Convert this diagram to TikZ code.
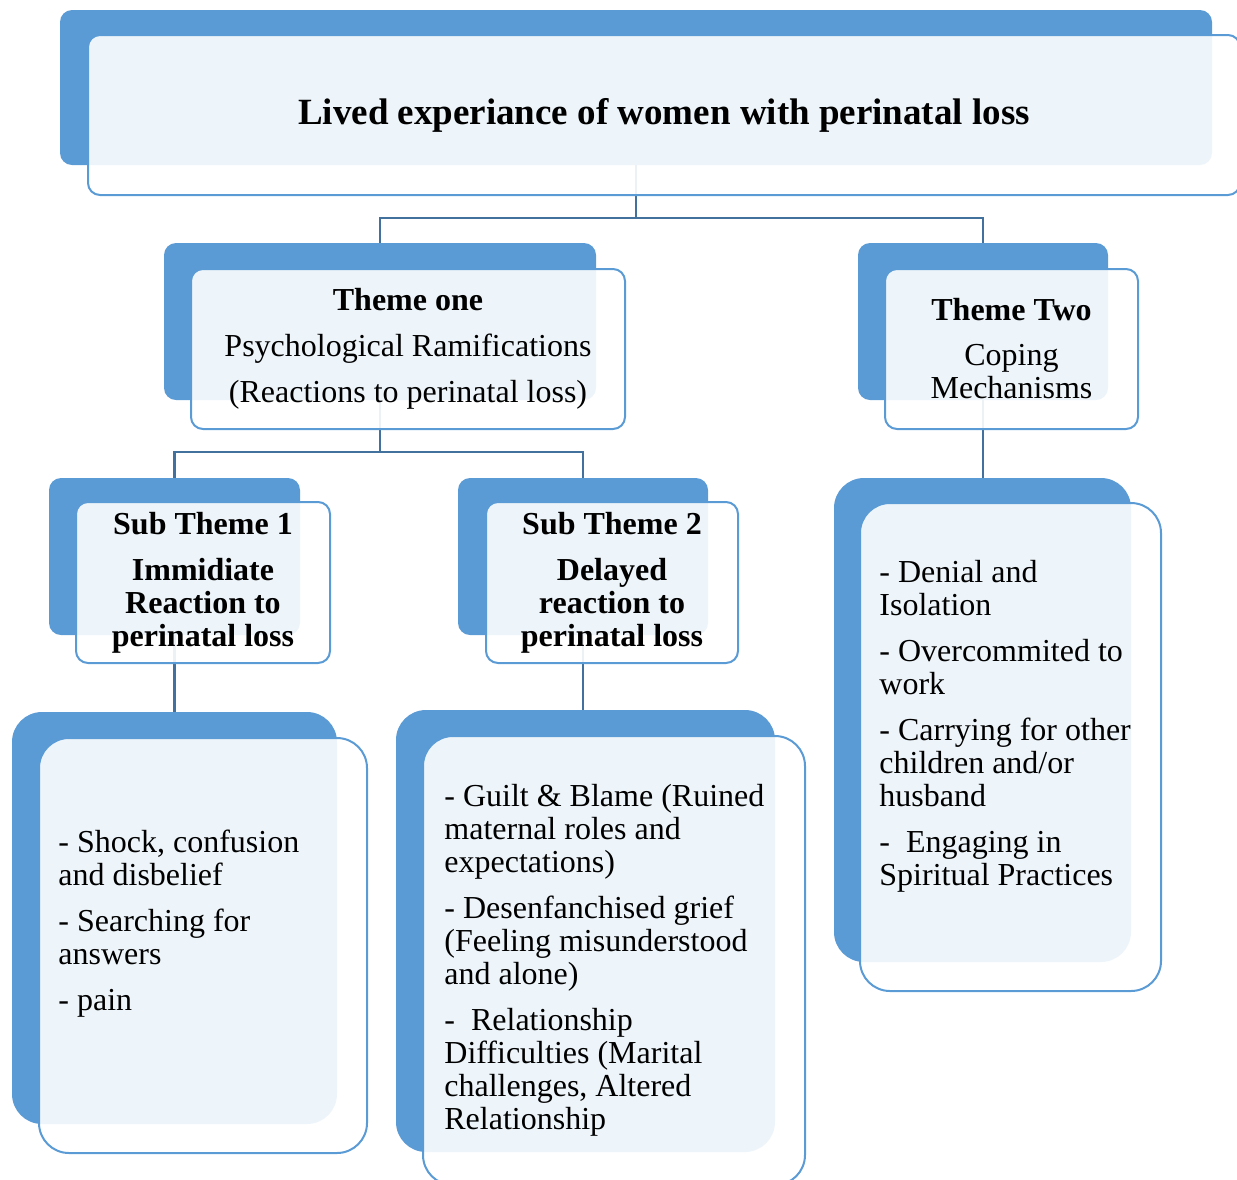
\documentclass[tikz,border=0pt]{standalone}
\usepackage{fontspec}
\setmainfont{Liberation Serif}
\usetikzlibrary{backgrounds}
\definecolor{themeblue}{HTML}{5B9BD5}
\definecolor{linkblue}{HTML}{41719C}
\newcommand{\boxfont}{\fontsize{16pt}{16.5pt}\selectfont}
\tikzset{
  backbox/.style={fill=themeblue, rounded corners=6pt, inner sep=0pt},
  frontbox/.style={draw=themeblue, line width=1pt, fill=white, fill opacity=0.9, text opacity=1,
    rounded corners=6pt, inner sep=0pt, align=center, font=\boxfont},
  bigcorner/.style={rounded corners=15pt},
  itemtext/.style={align=left, anchor=north west, inner sep=0pt, font=\boxfont},
  conn/.style={draw=linkblue, line width=1.2pt}
}
\begin{document}
\begin{tikzpicture}[x=0.5pt,y=-0.5pt]
\useasboundingbox (0,0) rectangle (1237,1179);

% main box
\node[backbox, minimum width=576pt, minimum height=77.5pt] (btop) at (636,87.5) {};
\node[frontbox, minimum width=576pt, minimum height=80pt,
  font=\fontsize{18.5pt}{20pt}\selectfont\bfseries] (ftop) at (664,115)
  {Lived experiance of women with perinatal loss};

% themes
\node[backbox, minimum width=216pt, minimum height=78.5pt] (bone) at (380,321.5) {};
\node[frontbox, minimum width=217pt, minimum height=80pt] (fone) at (408,349)
  {\textbf{Theme one}\\[6.5pt] Psychological Ramifications\\[6.5pt] (Reactions to perinatal loss)};

\node[backbox, minimum width=125pt, minimum height=78.5pt] (btwo) at (983,321.5) {};
\node[frontbox, minimum width=126.5pt, minimum height=80pt] (ftwo) at (1011.5,349)
  {\textbf{Theme Two}\\[6pt] Coping\\ Mechanisms};

% sub themes
\node[backbox, minimum width=125.5pt, minimum height=78.5pt] (bsubone) at (174.5,556.5) {};
\node[frontbox, minimum width=127pt, minimum height=80.5pt] (fsubone) at (203,582.5)
  {\textbf{Sub Theme 1}\\[6.5pt] \textbf{Immidiate}\\ \textbf{Reaction to}\\ \textbf{perinatal loss}};

\node[backbox, minimum width=125pt, minimum height=78.5pt] (bsubtwo) at (583,556.5) {};
\node[frontbox, minimum width=126pt, minimum height=80.5pt] (fsubtwo) at (612,582.5)
  {\textbf{Sub Theme 2}\\[6.5pt] \textbf{Delayed}\\ \textbf{reaction to}\\ \textbf{perinatal loss}};

% lists
\node[backbox, bigcorner, minimum width=162.5pt, minimum height=206pt] (bleft) at (174.5,918) {};
\node[frontbox, bigcorner, minimum width=164pt, minimum height=207.5pt] (fleft) at (203,945.5) {};
\node[itemtext] (tleft) at (58,830)
  {- Shock, confusion\\ and disbelief\\[6.5pt] - Searching for\\ answers\\[6.5pt] - pain};

\node[backbox, bigcorner, minimum width=189.5pt, minimum height=221pt] (bmid) at (585.5,931) {};
\node[frontbox, bigcorner, minimum width=191pt, minimum height=224.5pt] (fmid) at (614,960.5) {};
\node[itemtext] (tmid) at (444,784)
  {- Guilt \& Blame (Ruined\\ maternal roles and\\ expectations)\\[6.5pt]
   - Desenfanchised grief\\ (Feeling misunderstood\\ and alone)\\[6.5pt]
   -\ \ Relationship\\ Difficulties (Marital\\ challenges, Altered\\ Relationship};

\node[backbox, bigcorner, minimum width=148.5pt, minimum height=242pt] (bright) at (982.5,720) {};
\node[frontbox, bigcorner, minimum width=150.5pt, minimum height=244pt] (fright) at (1010.5,747) {};
\node[itemtext] (tright) at (879,560)
  {- Denial and\\ Isolation\\[6.5pt] - Overcommited to\\ work\\[6.5pt]
   - Carrying for other\\ children and/or\\ husband\\[6.5pt]
   -\ \ Engaging in\\ Spiritual Practices};

% connectors
\begin{scope}[on background layer]
\coordinate (jtop) at (636,218);
\coordinate (jone) at (380,452);
\draw[conn] (btop.center) -- (jtop);
\draw[conn] (bone.north) |- (jtop) -| (btwo.north);
\draw[conn] (bone.center) -- (jone);
\draw[conn] (bsubone.north) |- (jone) -| (bsubtwo.north);
\draw[conn] (bsubone.center) -- (bsubone.center |- bleft.north);
\draw[conn] (bsubtwo.center) -- (bsubtwo.center |- bmid.north);
\draw[conn] (btwo.center) -- (btwo.center |- bright.north);
\end{scope}
\end{tikzpicture}
\end{document}
